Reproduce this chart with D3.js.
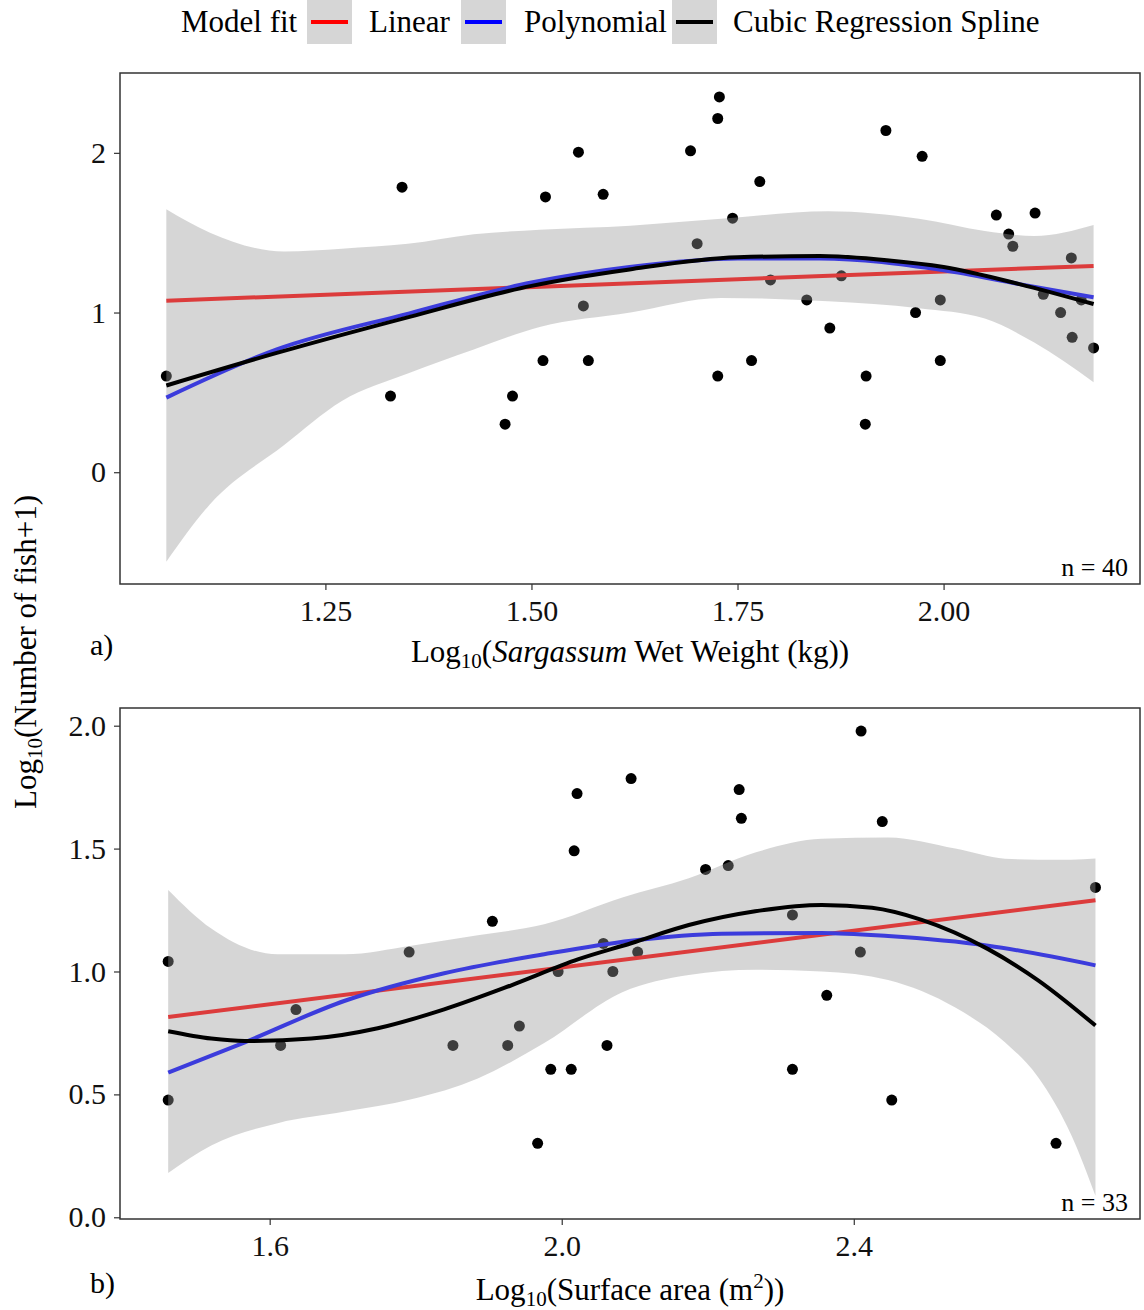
<!DOCTYPE html>
<html>
<head>
<meta charset="utf-8">
<script src="https://cdn.jsdelivr.net/npm/d3@7"></script>
<style>
  body { margin: 0; background: #fff; }
  text { font-family: "Liberation Serif", "Times New Roman", serif; }
</style>
</head>
<body>
<div id="chart"></div>
<script>
// ---- panel a: Sargassum wet weight ----
var aX = [1.057, 1.343, 1.329, 1.468, 1.477, 1.514, 1.517, 1.557, 1.563, 1.569, 1.587,
          1.693, 1.728, 1.726, 1.701, 1.744, 1.777, 1.726, 1.767, 1.790, 1.834, 1.876, 1.862,
          1.905, 1.906, 1.930, 1.974, 1.966, 1.996, 1.996, 2.064, 2.079, 2.084, 2.111, 2.121,
          2.142, 2.155, 2.156, 2.167, 2.182];
var aY = [0.602, 1.785, 0.477, 0.301, 0.477, 0.699, 1.724, 2.004, 1.041, 0.699, 1.740,
          2.013, 2.350, 2.215, 1.431, 1.591, 1.820, 0.602, 0.699, 1.204, 1.079, 1.230, 0.903,
          0.301, 0.602, 2.140, 1.978, 1.000, 1.079, 0.699, 1.610, 1.491, 1.415, 1.623, 1.114,
          1.000, 1.342, 0.845, 1.079, 0.778];

var aLinX = [1.057, 2.182];
var aLinY = [1.074, 1.292];
var aPolyX = [1.057, 1.191, 1.352, 1.50, 1.619, 1.75, 1.85, 2.00, 2.092, 2.182];
var aPolyY = [0.467, 0.769, 0.995, 1.188, 1.285, 1.339, 1.339, 1.264, 1.178, 1.096];
var aSplX = [1.057, 1.191, 1.352, 1.50, 1.619, 1.75, 1.85, 1.931, 2.00, 2.092, 2.182];
var aSplY = [0.543, 0.747, 0.973, 1.167, 1.270, 1.346, 1.354, 1.328, 1.285, 1.178, 1.053];
var aBandX  = [1.057, 1.11, 1.20, 1.27, 1.35, 1.43, 1.51, 1.62, 1.73, 1.86, 1.97, 2.05, 2.11, 2.182];
var aBandHi = [1.647, 1.500, 1.382, 1.400, 1.430, 1.490, 1.518, 1.544, 1.587, 1.634, 1.587, 1.511, 1.479, 1.548];
var aBandLo = [-0.56, -0.20, 0.170, 0.446, 0.618, 0.769, 0.909, 1.000, 1.091, 1.070, 1.027, 0.962, 0.812, 0.564];

var aXTicks = [1.25, 1.50, 1.75, 2.00];
var aYTicks = [0, 1, 2];

// ---- panel b: surface area ----
var bX = [1.461, 1.461, 1.615, 1.636, 1.791, 1.851, 1.905, 1.926, 1.942, 1.967, 1.985, 1.995,
          2.013, 2.017, 2.021, 2.057, 2.070, 2.062, 2.095, 2.104, 2.197, 2.228, 2.243, 2.246,
          2.316, 2.316, 2.363, 2.409, 2.410, 2.439, 2.452, 2.677, 2.731];
var bY = [1.041, 0.477, 0.699, 0.845, 1.079, 0.699, 1.204, 0.699, 0.778, 0.301, 0.602, 1.000,
          0.602, 1.491, 1.724, 1.114, 1.000, 0.699, 1.785, 1.079, 1.415, 1.431, 1.740, 1.623,
          1.230, 0.602, 0.903, 1.079, 1.978, 1.610, 0.477, 0.301, 1.342];

var bLinX = [1.461, 2.731];
var bLinY = [0.815, 1.290];
var bPolyX = [1.461, 1.566, 1.703, 1.839, 1.976, 2.095, 2.219, 2.356, 2.447, 2.584, 2.731];
var bPolyY = [0.589, 0.712, 0.881, 0.993, 1.070, 1.125, 1.154, 1.157, 1.144, 1.105, 1.025];
var bSplX = [1.461, 1.520, 1.566, 1.657, 1.748, 1.839, 1.931, 2.022, 2.095, 2.174, 2.265, 2.356,
             2.425, 2.493, 2.584, 2.652, 2.731];
var bSplY = [0.757, 0.727, 0.717, 0.727, 0.769, 0.846, 0.944, 1.049, 1.115, 1.189, 1.245, 1.271,
             1.259, 1.210, 1.091, 0.965, 0.780];
var bBandX  = [1.461, 1.52, 1.611, 1.703, 1.794, 1.885, 1.976, 2.083, 2.174, 2.265, 2.356, 2.447,
               2.539, 2.607, 2.652, 2.698, 2.731];
var bBandHi = [1.332, 1.175, 1.070, 1.070, 1.105, 1.147, 1.192, 1.301, 1.379, 1.484, 1.540, 1.545,
               1.500, 1.459, 1.455, 1.455, 1.460];
var bBandLo = [0.180, 0.292, 0.383, 0.430, 0.480, 0.565, 0.709, 0.916, 0.986, 1.007, 1.000, 0.965,
               0.853, 0.712, 0.572, 0.334, 0.088];

var bXTicks = [1.6, 2.0, 2.4];
var bYTicks = [0.0, 0.5, 1.0, 1.5, 2.0];

var legendNames = ["Linear", "Polynomial", "Cubic Regression Spline"];
var legendColors = ["#ff0000", "#0000ff", "#000000"];

var W = 1144, H = 1310;
var svg = d3.select("#chart").append("svg")
    .attr("width", W)
    .attr("height", H);

function zip(xs, ys) {
    return xs.map(function(x, i) { return [x, ys[i]]; });
}

function drawPanel(p) {
    var x = d3.scaleLinear().domain(p.xDomain).range([120, 1140]);
    var y = d3.scaleLinear().domain(p.yDomain).range([p.bottom, p.top]);
    var g = svg.append("g");

    // points first, the ribbon covers them
    g.selectAll("circle").data(zip(p.px, p.py)).enter().append("circle")
        .attr("cx", function(d) { return x(d[0]); })
        .attr("cy", function(d) { return y(d[1]); })
        .attr("r", 5.5)
        .attr("fill", "#000");

    var area = d3.area()
        .x(function(d) { return x(d[0]); })
        .y0(function(d) { return y(d[1]); })
        .y1(function(d) { return y(d[2]); })
        .curve(d3.curveMonotoneX);
    g.append("path")
        .datum(p.bandX.map(function(v, i) { return [v, p.bandLo[i], p.bandHi[i]]; }))
        .attr("d", area)
        .attr("fill", "#999999")
        .attr("fill-opacity", 0.4);

    var line = d3.line()
        .x(function(d) { return x(d[0]); })
        .y(function(d) { return y(d[1]); })
        .curve(d3.curveMonotoneX);
    var fits = [[p.linX, p.linY, "#dc3c3c"], [p.polyX, p.polyY, "#3c3cdc"], [p.splX, p.splY, "#000"]];
    fits.forEach(function(f) {
        g.append("path")
            .datum(zip(f[0], f[1]))
            .attr("d", line)
            .attr("fill", "none")
            .attr("stroke", f[2])
            .attr("stroke-width", 4);
    });

    // frame
    g.append("rect")
        .attr("x", 120).attr("y", p.top)
        .attr("width", 1020).attr("height", p.bottom - p.top)
        .attr("fill", "none")
        .attr("stroke", "#333")
        .attr("stroke-width", 1.5);

    var xAxis = g.append("g")
        .attr("transform", "translate(0," + p.bottom + ")")
        .call(d3.axisBottom(x).tickValues(p.xTicks).tickFormat(d3.format(p.xFmt)).tickSize(6).tickPadding(10));
    var yAxis = g.append("g")
        .attr("transform", "translate(120,0)")
        .call(d3.axisLeft(y).tickValues(p.yTicks).tickFormat(d3.format(p.yFmt)).tickSize(6).tickPadding(8));
    [xAxis, yAxis].forEach(function(a) {
        a.select(".domain").remove();
        a.selectAll("line").attr("stroke", "#333").attr("stroke-width", 1.2);
        a.selectAll("text")
            .attr("font-family", "Liberation Serif, Times New Roman, serif")
            .attr("font-size", 30)
            .attr("fill", "#111");
    });

    g.append("text")
        .attr("x", 1128).attr("y", p.bottom - 8)
        .attr("text-anchor", "end")
        .attr("font-size", 26)
        .text(p.n);

    g.append("text")
        .attr("x", 90).attr("y", p.labelY)
        .attr("font-size", 30)
        .text(p.label);

    return g;
}

drawPanel({
    px: aX, py: aY, linX: aLinX, linY: aLinY, polyX: aPolyX, polyY: aPolyY,
    splX: aSplX, splY: aSplY, bandX: aBandX, bandLo: aBandLo, bandHi: aBandHi,
    xDomain: [1.0008, 2.2383], yDomain: [-0.70, 2.50], top: 73, bottom: 584,
    xTicks: aXTicks, yTicks: aYTicks, xFmt: ".2f", yFmt: "d",
    n: "n = 40", label: "a)", labelY: 655
});
drawPanel({
    px: bX, py: bY, linX: bLinX, linY: bLinY, polyX: bPolyX, polyY: bPolyY,
    splX: bSplX, splY: bSplY, bandX: bBandX, bandLo: bBandLo, bandHi: bBandHi,
    xDomain: [1.395, 2.792], yDomain: [-0.007, 2.072], top: 708, bottom: 1219,
    xTicks: bXTicks, yTicks: bYTicks, xFmt: ".1f", yFmt: ".1f",
    n: "n = 33", label: "b)", labelY: 1293
});

// axis titles
var t1 = svg.append("text").attr("x", 630).attr("y", 662).attr("text-anchor", "middle").attr("font-size", 31);
t1.append("tspan").text("Log");
t1.append("tspan").attr("font-size", 21).attr("dy", 6).text("10");
t1.append("tspan").attr("dy", -6).text("(");
t1.append("tspan").attr("font-style", "italic").text("Sargassum");
t1.append("tspan").text(" Wet Weight (kg))");

var t2 = svg.append("text").attr("x", 630).attr("y", 1300).attr("text-anchor", "middle").attr("font-size", 31);
t2.append("tspan").text("Log");
t2.append("tspan").attr("font-size", 21).attr("dy", 6).text("10");
t2.append("tspan").attr("dy", -6).text("(Surface area (m");
t2.append("tspan").attr("font-size", 21).attr("dy", -12).text("2");
t2.append("tspan").attr("dy", 12).text("))");

var t3 = svg.append("text").attr("transform", "translate(36,652) rotate(-90)")
    .attr("text-anchor", "middle").attr("font-size", 31);
t3.append("tspan").text("Log");
t3.append("tspan").attr("font-size", 21).attr("dy", 6).text("10");
t3.append("tspan").attr("dy", -6).text("(Number of fish+1)");

// legend
var leg = svg.append("g");
leg.append("text").attr("x", 181).attr("y", 32).attr("font-size", 31).text("Model fit");
var keyX = [307, 461, 672];
var textX = [369, 524, 733];
legendNames.forEach(function(name, i) {
    leg.append("rect")
        .attr("x", keyX[i]).attr("y", 0)
        .attr("width", 45).attr("height", 44)
        .attr("fill", "#d6d6d6");
    leg.append("line")
        .attr("x1", keyX[i] + 4).attr("x2", keyX[i] + 41)
        .attr("y1", 22).attr("y2", 22)
        .attr("stroke", legendColors[i])
        .attr("stroke-width", 4);
    leg.append("text").attr("x", textX[i]).attr("y", 32).attr("font-size", 31).text(name);
});
</script>
</body>
</html>
